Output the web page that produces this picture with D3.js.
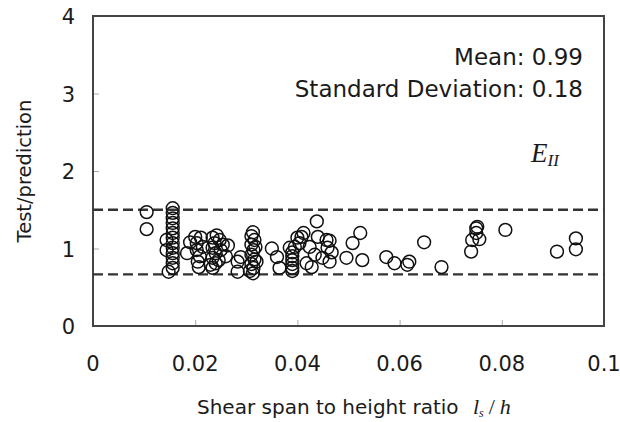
<!DOCTYPE html>
<html>
<head>
<meta charset="utf-8">
<script src="https://cdn.jsdelivr.net/npm/d3@7"></script>
<style>
  html, body { margin: 0; padding: 0; background: #fff; }
  svg { display: block; }
  text { font-family: "DejaVu Sans", Verdana, sans-serif; fill: #1a1a1a; }
</style>
</head>
<body>
<svg id="chart" width="620" height="422"></svg>
<script>
// Shear span to height ratio (l_s / h) of each specimen
const ratio = [
  0.0105, 0.0105,
  0.0144, 0.0144, 0.0148,
  0.0156, 0.0156, 0.0156, 0.0156, 0.0156, 0.0156, 0.0156, 0.0156, 0.0156, 0.0156, 0.0156, 0.0156, 0.0156,
  0.0184, 0.0190, 0.0200, 0.0203, 0.0203, 0.0205, 0.0207, 0.0211, 0.0215, 0.0209,
  0.0234, 0.0238, 0.0234, 0.0240, 0.0234, 0.0240, 0.0234, 0.0242, 0.0248, 0.0250, 0.0246, 0.0230, 0.0254, 0.0264, 0.0260,
  0.0283, 0.0283, 0.0289,
  0.0313, 0.0310, 0.0316, 0.0310, 0.0314, 0.0310, 0.0316, 0.0310, 0.0314, 0.0313, 0.0307, 0.0320, 0.0318,
  0.0350, 0.0360, 0.0365,
  0.0385, 0.0390, 0.0390, 0.0390, 0.0390, 0.0390, 0.0390, 0.0395, 0.0400, 0.0408, 0.0404, 0.0412,
  0.0418, 0.0424, 0.0428, 0.0434, 0.0438, 0.0440, 0.0449, 0.0457, 0.0463, 0.0467, 0.0463, 0.0459,
  0.0496, 0.0508, 0.0523, 0.0527,
  0.0574, 0.0590, 0.0615, 0.0619, 0.0648, 0.0682,
  0.0740, 0.0742, 0.0750, 0.0750, 0.0756, 0.0752,
  0.0807, 0.0908, 0.0945, 0.0945
];

// Ratio of tested to predicted strength for the same specimens
const testOverPrediction = [
  1.47, 1.25,
  1.11, 0.98, 0.70,
  1.52, 1.46, 1.39, 1.33, 1.26, 1.20, 1.14, 1.07, 1.01, 0.94, 0.88, 0.81, 0.75,
  0.94, 1.08, 1.15, 1.07, 0.98, 0.83, 0.76, 1.14, 1.02, 0.90,
  1.14, 1.07, 1.01, 0.94, 0.88, 0.81, 0.75, 1.17, 1.11, 0.98, 0.85, 0.79, 1.05, 1.04, 0.90,
  0.83, 0.70, 0.89,
  1.21, 1.16, 1.11, 1.05, 0.98, 0.92, 0.86, 0.80, 0.75, 0.68, 0.71, 0.83, 1.02,
  1.00, 0.89, 0.75,
  1.01, 0.95, 0.90, 0.85, 0.80, 0.75, 0.71, 1.02, 1.14, 1.15, 1.07, 1.20,
  0.81, 1.02, 0.76, 0.92, 1.35, 1.15, 0.88, 1.11, 1.10, 0.95, 0.83, 1.01,
  0.88, 1.07, 1.20, 0.85,
  0.89, 0.81, 0.79, 0.83, 1.08, 0.76,
  0.96, 1.11, 1.26, 1.20, 1.12, 1.28,
  1.24, 0.96, 1.13, 0.99
];

// Acceptance band: 1.5 and 1/1.5
const bandLimits = [1.5, 1 / 1.5];

const xTicks = [0, 0.02, 0.04, 0.06, 0.08, 0.1];
const xTickLabels = ["0", "0.02", "0.04", "0.06", "0.08", "0.1"];
const yTicks = [0, 1, 2, 3, 4];
const yTickLabels = ["0", "1", "2", "3", "4"];

const statsLines = ["Mean: 0.99", "Standard Deviation: 0.18"];

const svg = d3.select("#chart");
const plot = { left: 93, right: 604, top: 16, bottom: 326 };

const x = d3.scaleLinear().domain([0, 0.1]).range([plot.left, plot.right]);
const y = d3.scaleLinear().domain([0, 4]).range([plot.bottom, plot.top]);

// Inward tick marks (labels are placed separately)
const xAxis = d3.axisBottom(x).tickValues(xTicks.slice(1, -1)).tickSize(-6).tickFormat("");
const yAxis = d3.axisLeft(y).tickValues(yTicks.slice(1, -1)).tickSize(-6).tickFormat("");

const gx = svg.append("g").attr("transform", `translate(0,${plot.bottom})`).call(xAxis);
const gy = svg.append("g").attr("transform", `translate(${plot.left},0)`).call(yAxis);
[gx, gy].forEach(g => {
  g.select(".domain").remove();
  g.selectAll(".tick line").attr("stroke", "#aaa").attr("stroke-width", 1);
});

// Frame around the plotting area
svg.append("rect")
  .attr("x", plot.left).attr("y", plot.top)
  .attr("width", plot.right - plot.left).attr("height", plot.bottom - plot.top)
  .attr("fill", "none").attr("stroke", "#444").attr("stroke-width", 2);

// Tick labels
svg.append("g").selectAll("text").data(xTicks).join("text")
  .attr("x", d => x(d)).attr("y", 371)
  .attr("text-anchor", "middle").attr("font-size", 21)
  .text((d, i) => xTickLabels[i]);

svg.append("g").selectAll("text").data(yTicks).join("text")
  .attr("x", 75).attr("y", d => y(d) + 8)
  .attr("text-anchor", "end").attr("font-size", 21)
  .text((d, i) => yTickLabels[i]);

// Dashed limit lines
svg.append("g").selectAll("line").data(bandLimits).join("line")
  .attr("x1", plot.left).attr("x2", plot.right)
  .attr("y1", d => y(d)).attr("y2", d => y(d))
  .attr("stroke", "#333").attr("stroke-width", 2.4)
  .attr("stroke-dasharray", "10,5");

// Specimen markers
svg.append("g").selectAll("circle").data(ratio).join("circle")
  .attr("cx", d => x(d))
  .attr("cy", (d, i) => y(testOverPrediction[i]))
  .attr("r", 6.4)
  .attr("fill", "none")
  .attr("stroke", "#111")
  .attr("stroke-width", 1.5);

// Summary statistics
svg.append("g").selectAll("text").data(statsLines).join("text")
  .attr("x", 583).attr("y", (d, i) => 65 + i * 32)
  .attr("text-anchor", "end").attr("font-size", 23)
  .text(d => d);

// Design expression label E_II
const serif = "'Liberation Serif', 'Times New Roman', serif";
const eLabel = svg.append("text")
  .attr("x", 531).attr("y", 162)
  .style("font-family", serif)
  .style("font-style", "italic").attr("font-size", 27);
eLabel.append("tspan").text("E");
eLabel.append("tspan").attr("font-size", 17).attr("dy", 4).text("II");

// Axis titles
svg.append("text")
  .attr("transform", "translate(31,171) rotate(-90)")
  .attr("text-anchor", "middle").attr("font-size", 19.5)
  .text("Test/prediction");

const xTitle = svg.append("text")
  .attr("x", 197).attr("y", 414).attr("font-size", 20);
xTitle.append("tspan").text("Shear span to height ratio ");
xTitle.append("tspan").attr("dx", 8).style("font-family", serif).style("font-style", "italic").attr("font-size", 22).text("l");
xTitle.append("tspan").style("font-family", serif).style("font-style", "italic").attr("font-size", 12).attr("dy", 3).text("s");
xTitle.append("tspan").attr("dy", -3).attr("dx", 5).style("font-family", serif).attr("font-size", 22).text("/");
xTitle.append("tspan").attr("dx", 5).style("font-family", serif).style("font-style", "italic").attr("font-size", 22).text("h");
</script>
</body>
</html>
